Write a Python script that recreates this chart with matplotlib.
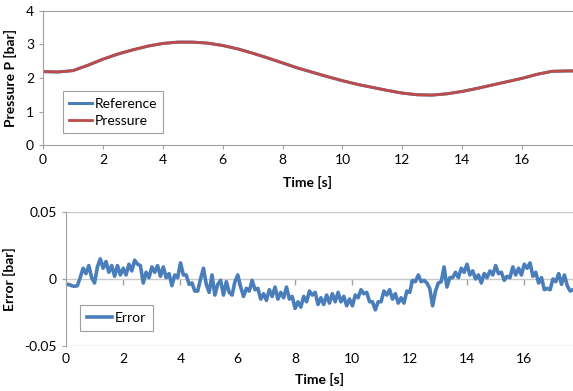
import matplotlib
matplotlib.use("Agg")
import matplotlib.pyplot as plt
import numpy as np

plt.rcParams['font.family'] = ['Lato', 'DejaVu Sans']

# pressure data, sampled every 0.5 s
t_p = [0, 0.5, 1.0, 1.5, 2.0, 2.5, 3.0, 3.5, 4.0, 4.5, 5.0, 5.5, 6.0, 6.5, 7.0, 7.5,
       8.0, 8.5, 9.0, 9.5, 10.0, 10.5, 11.0, 11.5, 12.0, 12.5, 13.0, 13.5, 14.0,
       14.5, 15.0, 15.5, 16.0, 16.5, 17.0, 17.5, 17.7]
reference = [2.19, 2.18, 2.22, 2.38, 2.56, 2.71, 2.84, 2.95, 3.03, 3.07, 3.07, 3.04,
             2.97, 2.87, 2.74, 2.60, 2.45, 2.30, 2.17, 2.04, 1.92, 1.81, 1.72, 1.63,
             1.55, 1.50, 1.49, 1.53, 1.60, 1.69, 1.79, 1.89, 1.99, 2.11, 2.20, 2.21, 2.21]
pressure = [2.19, 2.18, 2.22, 2.38, 2.56, 2.72, 2.84, 2.95, 3.03, 3.07, 3.07, 3.04,
            2.97, 2.87, 2.74, 2.60, 2.45, 2.30, 2.17, 2.04, 1.92, 1.81, 1.72, 1.63,
            1.55, 1.50, 1.49, 1.53, 1.60, 1.69, 1.79, 1.89, 1.99, 2.11, 2.20, 2.21, 2.21]

# error data in mbar, sampled every 0.1 s from 0 to 17.7 s
error_mbar = [
    -4.5, -4, -5, -5.5, -5, 1, 8, 4, 10, 1,
    -3, 9, 15, 8, 13, 5, 10, 2, 10, 3,
    8, 3, 11, 6, 14, 11, 10, -3, 5, 1,
    9, 5, 10, 2, 9, 1, 4, -5, 3, 1,
    12, 3, 3, -4, -3, -9, -9, 0, 8, -4,
    -10, 3, -12, -4, -1, -12, -2, -10, -12, -2,
    3, -6, -13, -7, -9, -1, -8, -7, -15, -11,
    -16, -8, -13, -6, -15, -10, -14, -6, -15, -13,
    -22, -17, -21, -13, -17, -9, -12, -10, -19, -14,
    -19, -12, -18, -11, -17, -10, -17, -13, -20, -15,
    -20, -12, -14, -8, -11, -10, -17, -17, -23, -17,
    -17, -9, -12, -8, -15, -11, -18, -14, -18, -9,
    -10, -1, -2, 3, -2, -1, -3, -7, -20, -9,
    -3, -2, 9, -6, 1, 1, 5, 1, 8, 5,
    11, 3, 6, 0, 3, -3, 4, 1, 6, 3,
    10, 4, 5, -1, 2, 1, 9, 3, 8, 3,
    11, 8, 12, 2, 5, -3, 1, -8, -7, -8,
    0, -2, 4, -4, 3, -5, -9, -8]
t_e = np.arange(len(error_mbar)) * 0.1
error = np.array(error_mbar) / 1000.0

blue = '#4A7EBB'
red = '#BE4B48'
gray = '#A0A0A0'

fig = plt.figure(figsize=(5.73, 3.91), dpi=100)
ax1 = fig.add_axes([0.075, 0.629, 0.925, 0.343])
ax2 = fig.add_axes([0.115, 0.115, 0.885, 0.343])

# top chart
ax1.plot(t_p, reference, color=blue, lw=2.2, label='Reference')
ax1.plot(t_p, pressure, color=red, lw=2, label='Pressure')
ax1.set_xlim(0, 17.7)
ax1.set_ylim(0, 4)
ax1.set_xticks(range(0, 17, 2))
ax1.set_yticks(range(0, 5))
ax1.spines['right'].set_visible(False)
for s in ['left', 'bottom', 'top']:
    ax1.spines[s].set_color(gray)
ax1.tick_params(colors=gray, labelcolor='black', labelsize=10, length=3)
ax1.set_xlabel('Time [s]', fontweight='bold', fontsize=10, labelpad=7)
ax1.set_ylabel('Pressure P [bar]', fontweight='bold', fontsize=10, labelpad=6)
leg1 = ax1.legend(loc='lower left', bbox_to_anchor=(0.025, 0.04), fontsize=10,
                  fancybox=False, edgecolor=gray, framealpha=1,
                  handlelength=1.6, handletextpad=0.2, borderpad=0.45, labelspacing=0.35)
leg1.get_frame().set_linewidth(0.8)

# bottom chart
ax2.plot(t_e, error, color=blue, lw=2.6, label='Error')
ax2.set_xlim(0, 17.7)
ax2.set_ylim(-0.05, 0.05)
ax2.set_xticks(range(0, 17, 2))
ax2.set_yticks([-0.05, 0, 0.05])
ax2.set_yticklabels(['-0.05', '0', '0.05'])
ax2.grid(axis='y', color='#C8C8C8', lw=1)
ax2.set_axisbelow(True)
for s in ['right', 'top', 'bottom']:
    ax2.spines[s].set_visible(False)
ax2.spines['left'].set_color(gray)
ax2.tick_params(axis='x', length=0, labelsize=10, pad=5)
ax2.tick_params(axis='y', colors=gray, labelcolor='black', labelsize=10, length=3)

# x axis crosses at zero: small tick marks below the zero line
zero_axis = ax2.secondary_xaxis(0.5)
zero_axis.set_xticks(range(0, 17, 2))
zero_axis.set_xticklabels([])
zero_axis.tick_params(top=False, bottom=True, direction='out', length=4, width=1,
                      colors=gray, labelbottom=False, labeltop=False)
for s in zero_axis.spines.values():
    s.set_visible(False)

ax2.set_xlabel('Time [s]', fontweight='bold', fontsize=10, labelpad=6)
ax2.set_ylabel('Error [bar]', fontweight='bold', fontsize=10, labelpad=6)
leg2 = ax2.legend(loc='lower left', bbox_to_anchor=(0.02, 0.08), fontsize=10,
                  fancybox=False, edgecolor=gray, framealpha=1,
                  handlelength=1.8, handletextpad=0.2, borderpad=0.5,
                  borderaxespad=0.3)
leg2.get_frame().set_linewidth(0.8)

fig.savefig('out.png', dpi=100)
